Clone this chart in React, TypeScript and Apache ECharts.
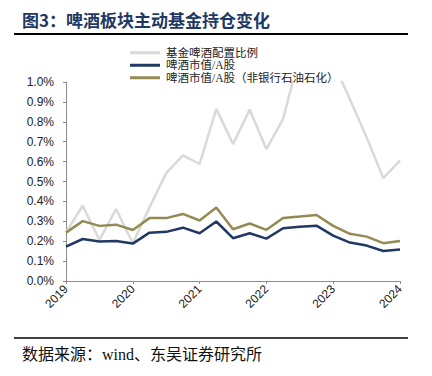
import React, { useEffect, useRef } from "react";
import * as echarts from "echarts";

const quarters = [
  "2019Q1", "2019Q2", "2019Q3", "2019Q4",
  "2020Q1", "2020Q2", "2020Q3", "2020Q4",
  "2021Q1", "2021Q2", "2021Q3", "2021Q4",
  "2022Q1", "2022Q2", "2022Q3", "2022Q4",
  "2023Q1", "2023Q2", "2023Q3", "2023Q4",
  "2024Q1",
];
const seriesNames = ["基金啤酒配置比例", "啤酒市值/A股", "啤酒市值/A股（非银行石油石化）"];
const fundBeer = [0.245, 0.378, 0.206, 0.361, 0.19, 0.37, 0.542, 0.631, 0.588, 0.865, 0.688, 0.861, 0.663, 0.814, 1.14, 1.2, 1.1, 0.913, 0.722, 0.517, 0.605];
const beerA = [0.173, 0.211, 0.198, 0.201, 0.188, 0.243, 0.247, 0.268, 0.24, 0.299, 0.215, 0.24, 0.213, 0.265, 0.273, 0.278, 0.228, 0.193, 0.178, 0.151, 0.158];
const beerNonFin = [0.243, 0.301, 0.277, 0.283, 0.256, 0.316, 0.316, 0.337, 0.304, 0.369, 0.26, 0.289, 0.257, 0.317, 0.324, 0.332, 0.277, 0.237, 0.223, 0.19, 0.201];
const colors = ["#D9D9D9", "#1F3864", "#948A54"];

const CJK_SERIF = "'Liberation Serif','Noto Sans CJK SC'";

export default function App() {
  const ref = useRef<HTMLDivElement>(null);
  useEffect(() => {
    if (!ref.current) return;
    const chart = echarts.init(ref.current, null, { renderer: "svg" });
    const values = [fundBeer, beerA, beerNonFin];
    chart.setOption({
      animation: false,
      backgroundColor: "#ffffff",
      grid: { left: 66, right: 32, top: 82, bottom: 95 },
      legend: {
        orient: "vertical",
        left: 130,
        top: 46.5,
        padding: 0,
        itemGap: 0,
        itemWidth: 30,
        itemHeight: 3,
        icon: "rect",
        data: seriesNames,
        textStyle: { fontSize: 11.5, lineHeight: 12.5, color: "#222", fontFamily: CJK_SERIF, padding: [0, 0, 0, 1] },
      },
      xAxis: {
        type: "category",
        boundaryGap: false,
        data: quarters,
        axisLine: { lineStyle: { color: "#8C8C8C", width: 1 } },
        axisTick: { interval: 3, length: 3, lineStyle: { color: "#8C8C8C" } },
        axisLabel: {
          interval: 3,
          rotate: 45,
          margin: 6,
          fontSize: 12,
          color: "#222",
          fontFamily: "'Liberation Sans', Arial, sans-serif",
          formatter: (v: string) => v.slice(0, 4),
        },
        splitLine: { show: false },
      },
      yAxis: {
        type: "value",
        min: 0,
        max: 1.0,
        interval: 0.1,
        axisLine: { show: true, lineStyle: { color: "#8C8C8C", width: 1 } },
        axisTick: { show: true, length: 3, lineStyle: { color: "#8C8C8C" } },
        axisLabel: {
          margin: 12,
          fontSize: 12,
          color: "#222",
          fontFamily: "'Liberation Sans', Arial, sans-serif",
          formatter: (v: number) => v.toFixed(1) + "%",
        },
        splitLine: { show: false },
      },
      series: seriesNames.map((name, i) => ({
        name,
        type: "line",
        data: values[i],
        showSymbol: false,
        symbol: "none",
        clip: true,
        color: colors[i],
        lineStyle: { color: colors[i], width: 2.5 },
      })),
      graphic: [
        {
          type: "text",
          left: 22,
          top: 11,
          style: {
            text: "图3：啤酒板块主动基金持仓变化",
            fill: "#1F3864",
            font: "bold 17px 'Noto Sans CJK SC'",
          },
        },
        {
          type: "line",
          shape: { x1: 14, y1: 34, x2: 408, y2: 34 },
          style: { stroke: "#000", lineWidth: 2 },
        },
        {
          type: "line",
          shape: { x1: 14, y1: 338, x2: 408, y2: 338 },
          style: { stroke: "#000", lineWidth: 1.5 },
        },
        {
          type: "text",
          left: 22,
          top: 346,
          style: {
            text: "数据来源：wind、东吴证券研究所",
            fill: "#111",
            font: "16px " + CJK_SERIF,
          },
        },
      ],
    });
    return () => chart.dispose();
  }, []);
  return (
    <div
      ref={ref}
      style={{ position: "absolute", left: 0, top: 0, width: 432, height: 376 }}
    />
  );
}
